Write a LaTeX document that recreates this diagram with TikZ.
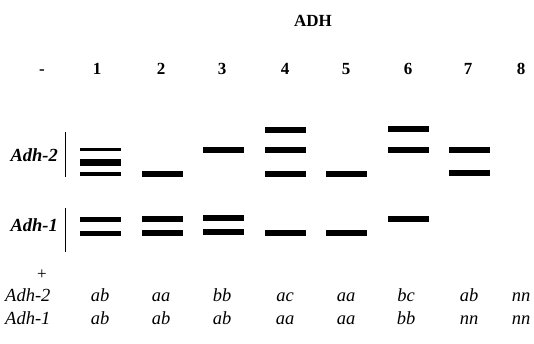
\documentclass[tikz,border=0pt]{standalone}
\usepackage{fontspec}
\setmainfont{Liberation Serif}
\begin{document}
\begin{tikzpicture}[x=1pt,y=-1pt,
  band/.style={fill=black,draw=none,inner sep=0pt,minimum width=41pt,minimum height=6pt,rectangle},
  thin/.style={band,minimum height=3.5pt},
  mid/.style={band,minimum height=5pt},
  num/.style={font=\fontsize{17}{19}\selectfont\bfseries,anchor=base,inner sep=0pt},
  loc/.style={font=\fontsize{18.5}{21}\selectfont\bfseries\itshape,inner sep=0pt},
  geno/.style={font=\fontsize{18.5}{21}\selectfont\itshape,anchor=base,inner sep=0pt}]
\useasboundingbox (0,0) rectangle (534,343);
% title
\node[num] (title) at (313,26) {ADH};
% lane numbers
\node[num] (nminus) at (42,74) {-};
\node[num] (n1) at (97,74) {1};
\node[num] (n2) at (161,74) {2};
\node[num] (n3) at (222,74) {3};
\node[num] (n4) at (285,74) {4};
\node[num] (n5) at (346,74) {5};
\node[num] (n6) at (408,74) {6};
\node[num] (n7) at (468,74) {7};
\node[num] (n8) at (521,74) {8};
% locus labels
\node[loc,anchor=east] (l2) at (58,155) {Adh-2};
\node[loc,anchor=east] (l1) at (58,225) {Adh-1};
\draw[line width=1pt] (65,132) -- (65,177);
\draw[line width=1pt] (65,208) -- (65,252);
% lane 1
\node[thin] (b1a) at (100.5,149.5) {};
\node[band,minimum height=7pt] (b1b) at (100.5,162) {};
\node[thin] (b1c) at (100.5,174) {};
\node[mid] (b1d) at (100.5,219) {};
\node[mid] (b1e) at (100.5,233) {};
% lane 2
\node[band] (b2a) at (162,174) {};
\node[band] (b2b) at (162,218.5) {};
\node[band] (b2c) at (162,233) {};
% lane 3
\node[band] (b3a) at (223,149.5) {};
\node[band] (b3b) at (223,218) {};
\node[band] (b3c) at (223,232) {};
% lane 4
\node[band] (b4a) at (285,130) {};
\node[band] (b4b) at (285,149.7) {};
\node[band] (b4c) at (285,173.7) {};
\node[band] (b4d) at (285,232.7) {};
% lane 5
\node[band] (b5a) at (346,173.7) {};
\node[band] (b5b) at (346,232.7) {};
% lane 6
\node[band] (b6a) at (408,129) {};
\node[band] (b6b) at (408,149.7) {};
\node[band] (b6c) at (408,219) {};
% lane 7
\node[band] (b7a) at (469,149.7) {};
\node[band] (b7b) at (469,173.3) {};
% plus
\node[font=\fontsize{17}{19}\selectfont,anchor=base,inner sep=0pt] (plus) at (42,279) {+};
% genotype rows
\node[geno,anchor=base west] (g2) at (5,301) {Adh-2};
\node[geno,anchor=base west] (g1) at (5,324) {Adh-1};
\node[geno] (g2a) at (100,301) {ab};
\node[geno] (g2b) at (161,301) {aa};
\node[geno] (g2c) at (222,301) {bb};
\node[geno] (g2d) at (285,301) {ac};
\node[geno] (g2e) at (346,301) {aa};
\node[geno] (g2f) at (406,301) {bc};
\node[geno] (g2g) at (469,301) {ab};
\node[geno] (g2h) at (521,301) {nn};
\node[geno] (g1a) at (100,324) {ab};
\node[geno] (g1b) at (161,324) {ab};
\node[geno] (g1c) at (222,324) {ab};
\node[geno] (g1d) at (285,324) {aa};
\node[geno] (g1e) at (346,324) {aa};
\node[geno] (g1f) at (406,324) {bb};
\node[geno] (g1g) at (469,324) {nn};
\node[geno] (g1h) at (521,324) {nn};
\end{tikzpicture}
\end{document}
